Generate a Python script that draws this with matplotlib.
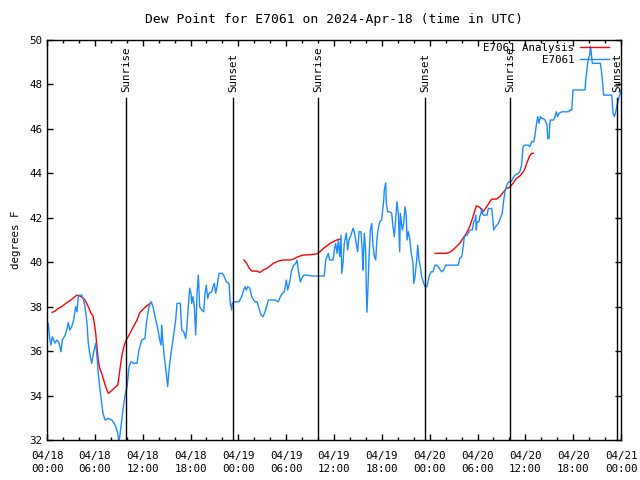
import numpy as np
import pandas as pd
import matplotlib
matplotlib.use("Agg")
import matplotlib.pyplot as plt
import matplotlib.dates as mdates

# observations: hours after 2024-04-18 00:00 UTC, dew point (F)
obs_hours = [0.0, 0.16, 0.34, 0.50, 0.66, 1.00, 1.25, 1.51, 1.76, 1.92, 2.26, 2.51, 2.67, 2.85, 3.10, 3.35,
             3.60, 3.76, 3.93, 4.10, 4.35, 4.60, 4.77, 5.02, 5.18, 5.43, 5.61, 5.86, 6.11, 6.27, 6.43, 6.61,
             6.86, 7.02, 7.28, 7.69, 8.12, 8.44, 8.62, 8.87, 9.03, 9.28, 9.53, 9.78, 10.04, 10.29, 10.54,
             10.88, 11.29, 11.54, 11.88, 12.29, 12.46, 12.79, 13.05, 13.30, 13.55, 13.89, 14.14, 14.30,
             14.39, 14.55, 14.71, 14.96, 15.14, 15.30, 15.55, 15.89, 16.14, 16.31, 16.72, 16.90, 17.15,
             17.40, 17.56, 17.72, 17.90, 18.06, 18.15, 18.31, 18.48, 18.65, 18.82, 18.98, 19.15, 19.41,
             19.66, 19.82, 19.98, 20.16, 20.32, 20.66, 20.82, 20.99, 21.16, 21.32, 21.58, 21.99, 22.24,
             22.49, 22.83, 22.99, 23.17, 23.24, 23.49, 24.08, 24.42, 24.67, 24.84, 25.00, 25.18, 25.43,
             25.68, 25.93, 26.09, 26.34, 26.59, 26.84, 27.09, 27.35, 27.60, 27.76, 28.60, 29.01, 29.27,
             29.52, 29.77, 30.02, 30.19, 30.44, 30.69, 30.95, 31.20, 31.36, 31.52, 31.77, 31.95, 32.20,
             32.61, 33.20, 33.87, 34.78, 34.96, 35.29, 35.46, 35.88, 36.04, 36.21, 36.38, 36.54, 36.72,
             36.88, 36.97, 37.13, 37.29, 37.54, 37.72, 37.88, 38.13, 38.38, 38.55, 38.72, 38.97, 39.14,
             39.39, 39.55, 39.64, 39.80, 39.98, 40.05, 40.14, 40.23, 40.39, 40.56, 40.73, 40.89, 41.06,
             41.23, 41.39, 41.56, 41.73, 41.98, 42.06, 42.24, 42.31, 42.49, 42.56, 42.74, 42.99, 43.24,
             43.40, 43.57, 43.74, 43.90, 44.07, 44.24, 44.32, 44.57, 44.74, 44.91, 45.07, 45.16, 45.32,
             45.50, 45.66, 45.91, 46.00, 46.16, 46.41, 46.50, 46.66, 46.82, 47.00, 47.25, 47.42, 47.67,
             47.92, 48.17, 48.42, 48.67, 48.83, 49.08, 49.33, 49.51, 49.76, 50.01, 50.43, 51.18, 51.59,
             51.77, 52.02, 52.18, 52.35, 52.68, 52.93, 53.10, 53.35, 53.52, 53.69, 53.77, 53.85, 53.94,
             54.19, 54.28, 54.44, 54.53, 54.60, 54.78, 55.19, 55.36, 55.78, 55.94, 56.03, 56.28, 56.61,
             56.86, 57.11, 57.29, 57.45, 57.61, 57.79, 57.95, 58.20, 58.45, 58.70, 59.12, 59.29, 59.54,
             59.71, 59.96, 60.37, 60.55, 60.80, 61.05, 61.21, 61.38, 61.55, 61.72, 61.88, 62.06, 62.22,
             62.47, 62.72, 62.81, 62.97, 63.06, 63.13, 63.56, 63.72, 63.89, 64.06, 64.22, 64.56, 64.98,
             65.39, 65.64, 65.82, 65.98, 66.65, 67.49, 67.57, 67.74, 67.90, 68.08, 68.15, 68.24, 68.40,
             69.41, 69.58, 69.83, 70.84, 71.00, 71.17, 71.35, 71.51, 71.67, 72.0]
obs_dewpt = [37.3, 37.25, 36.57, 36.27, 36.65, 36.36, 36.5, 36.36, 35.97, 36.5, 36.7, 37.0, 37.28, 36.95,
             37.1, 37.4, 38.0, 37.77, 38.45, 38.52, 38.52, 38.3, 38.0, 37.25, 36.35, 35.75, 35.45, 35.97,
             36.35, 35.75, 35.0, 34.4, 33.65, 33.2, 32.9, 32.97, 32.9, 32.75, 32.6, 32.3, 31.9, 32.6,
             33.35, 34.0, 34.4, 35.3, 35.52, 35.45, 35.45, 36.05, 36.5, 36.57, 37.25, 38.0, 38.22, 38.0,
             37.55, 37.02, 36.5, 36.27, 37.17, 36.35, 35.75, 35.0, 34.4, 35.15, 35.9, 36.73, 37.4, 38.15,
             38.15, 36.95, 36.87, 36.57, 37.1, 38.0, 38.83, 38.6, 38.15, 38.45, 38.0, 36.73, 38.6, 39.42,
             38.0, 37.85, 37.77, 38.6, 38.97, 38.37, 38.6, 38.67, 38.9, 39.05, 38.6, 38.9, 39.5, 39.5,
             39.35, 39.12, 39.05, 38.15, 37.85, 38.15, 38.22, 38.22, 38.45, 38.75, 38.9, 38.75, 38.9,
             38.83, 38.45, 38.3, 38.22, 38.22, 37.92, 37.62, 37.55, 37.77, 38.07, 38.3, 38.3, 38.22,
             38.45, 38.6, 38.67, 39.2, 38.75, 39.12, 39.65, 39.87, 39.95, 40.1, 39.65, 39.12, 39.27,
             39.42, 39.42, 39.38, 39.38, 39.38, 40.1, 40.4, 40.1, 40.1, 40.55, 40.85, 40.4, 41.0, 40.25,
             41.22, 39.5, 39.95, 40.85, 41.3, 40.55, 41.0, 41.22, 41.52, 41.37, 41.0, 40.47, 41.37, 41.37,
             40.47, 39.65, 41.3, 40.47, 38.75, 37.75, 38.67, 40.17, 41.45, 41.75, 40.77, 40.25, 40.1,
             41.07, 41.52, 41.82, 41.9, 42.2, 42.8, 43.25, 43.57, 42.65, 42.27, 42.27, 42.2, 41.6, 41.15,
             41.97, 42.72, 42.2, 40.47, 42.2, 41.45, 41.75, 42.5, 42.05, 41.0, 41.37, 41.07, 40.47, 39.95,
             39.05, 39.35, 40.25, 40.77, 40.1, 39.8, 39.35, 39.05, 38.9, 38.9, 39.35, 39.57, 39.57, 39.87,
             39.87, 39.8, 39.65, 39.57, 39.65, 39.87, 39.87, 39.87, 39.87, 40.17, 40.25, 40.62, 41.15,
             41.22, 41.37, 41.45, 41.45, 41.82, 41.9, 42.12, 41.45, 41.82, 41.82, 42.05, 42.2, 42.42,
             42.2, 42.12, 42.12, 42.42, 42.42, 41.9, 41.45, 41.6, 41.75, 41.97, 42.2, 42.8, 43.17, 43.4,
             43.55, 43.62, 43.62, 43.77, 43.92, 44.0, 44.07, 44.37, 45.2, 45.27, 45.27, 45.2, 45.42,
             45.42, 45.72, 46.17, 46.55, 46.25, 46.55, 46.47, 46.47, 46.4, 46.17, 45.57, 45.57, 46.17,
             46.4, 46.4, 46.55, 46.77, 46.55, 46.7, 46.77, 46.77, 46.77, 46.85, 46.85, 47.75, 47.75,
             47.75, 48.2, 48.72, 49.17, 49.32, 49.7, 49.55, 48.95, 48.95, 48.5, 47.52, 47.52, 46.7, 46.55,
             46.77, 47.07, 47.3, 47.75]

# analysis: NaN marks gaps
ana_hours = [0.66, 1.00, 1.42, 1.84, 2.26, 2.67, 3.10, 3.51, 3.76, 4.10, 4.43, 4.77, 5.02, 5.27, 5.52,
             5.77, 5.93, 6.11, 6.27, 6.43, 6.61, 6.86, 7.11, 7.36, 7.69, 7.94, 8.28, 8.62, 8.87, 9.03,
             9.19, 9.45, 9.70, 9.95, 10.29, 10.62, 10.95, 11.29, 11.63, 11.95, 12.29, 12.63, 12.96, 13.13,
             18.0,
             24.71, 25.05, 25.38, 25.71, 26.30, 26.72, 27.13, 27.56, 27.97, 28.39, 28.81, 29.23, 29.64,
             30.48, 30.90, 31.32, 31.74, 32.15, 32.99, 33.83, 34.24, 34.66, 35.09, 35.50, 35.91, 36.34,
             36.75,
             42.0,
             48.67, 49.51, 50.09, 50.51, 50.93, 51.34, 51.77, 52.18, 52.60, 53.02, 53.44, 53.69, 53.85,
             54.28, 54.69, 55.11, 55.53, 55.78, 56.36, 56.79, 57.20, 57.61, 58.04, 58.45, 58.87, 59.29,
             59.75, 59.96, 60.17, 60.50, 60.80, 61.00]
ana_dewpt = [37.74, 37.8, 37.92, 38.0, 38.12, 38.22, 38.33, 38.45, 38.52, 38.48, 38.42, 38.3, 38.12,
             37.92, 37.7, 37.58, 37.25, 36.8, 36.2, 35.6, 35.22, 35.0, 34.7, 34.4, 34.1, 34.17, 34.28,
             34.4, 34.47, 34.85, 35.3, 35.9, 36.27, 36.5, 36.72, 36.95, 37.17, 37.4, 37.73, 37.85, 37.97,
             38.07, 38.15, 38.18,
             np.nan,
             40.1, 39.95, 39.72, 39.6, 39.6, 39.54, 39.65, 39.72, 39.83, 39.95, 40.02, 40.07, 40.1, 40.1,
             40.14, 40.22, 40.28, 40.32, 40.34, 40.37, 40.47, 40.62, 40.73, 40.85, 40.92, 41.0, 41.04,
             np.nan,
             40.4, 40.4, 40.4, 40.45, 40.55, 40.7, 40.85, 41.07, 41.3, 41.6, 42.05, 42.35, 42.54, 42.47,
             42.27, 42.47, 42.72, 42.84, 42.84, 42.95, 43.13, 43.32, 43.37, 43.55, 43.77, 43.87, 44.07,
             44.22, 44.45, 44.75, 44.9, 44.9]

sun_times = ["2024-04-18 09:55", "2024-04-18 23:20", "2024-04-19 10:00",
             "2024-04-19 23:25", "2024-04-20 10:05", "2024-04-20 23:30"]
sun_labels = ["Sunrise", "Sunset", "Sunrise", "Sunset", "Sunrise", "Sunset"]

start = pd.Timestamp("2024-04-18 00:00")
obs_t = start + pd.to_timedelta(obs_hours, unit="h")
ana_t = start + pd.to_timedelta(ana_hours, unit="h")

plt.rcParams['font.family'] = ['DejaVu Sans Mono']
plt.rcParams['font.size'] = 7.8

fig = plt.figure(figsize=(6.4, 4.8), dpi=100)
ax = fig.add_axes([47/640, 40/480, 574/640, 400/480])

ax.plot(ana_t, ana_dewpt, color='#ff0000', lw=1, label="E7061 Analysis")
ax.plot(obs_t, obs_dewpt, color='#1a8cff', lw=1, label="E7061")

for t, lab in zip(sun_times, sun_labels):
    t = pd.Timestamp(t)
    ax.axvline(t, ymin=0, ymax=0.855, color='black', lw=1)
    ax.text(t, 0.87, lab, rotation=90, ha='center', va='bottom',
            transform=ax.get_xaxis_transform())

ax.set_xlim(start, start + pd.Timedelta(hours=72))
ax.set_ylim(32, 50)
ax.set_yticks(np.arange(32, 51, 2))
ax.xaxis.set_major_locator(mdates.HourLocator(byhour=[0, 6, 12, 18]))
ax.xaxis.set_minor_locator(mdates.HourLocator(interval=2))
ax.xaxis.set_major_formatter(mdates.DateFormatter('%m/%d\n%H:%M'))
ax.tick_params(direction='in', top=True, right=True, length=4, width=1)
ax.tick_params(axis='x', pad=8)
ax.tick_params(which='minor', direction='in', top=True, length=2.5, width=1)
for lbl in ax.get_xticklabels():
    lbl.set_linespacing(1.35)
for s in ax.spines.values():
    s.set_linewidth(1)

ax.set_ylabel("degrees F", labelpad=6)
ax.set_title("Dew Point for E7061 on 2024-Apr-18 (time in UTC)", pad=12)

leg = ax.legend(loc='upper right', bbox_to_anchor=(0.985, 1.0), frameon=False,
                markerfirst=False, handlelength=2.7, borderaxespad=0.1, borderpad=0.2,
                labelspacing=0.15, handletextpad=0.5)
for txt in leg.get_texts():
    txt.set_ha('right')

fig.savefig("out.png", dpi=100)
